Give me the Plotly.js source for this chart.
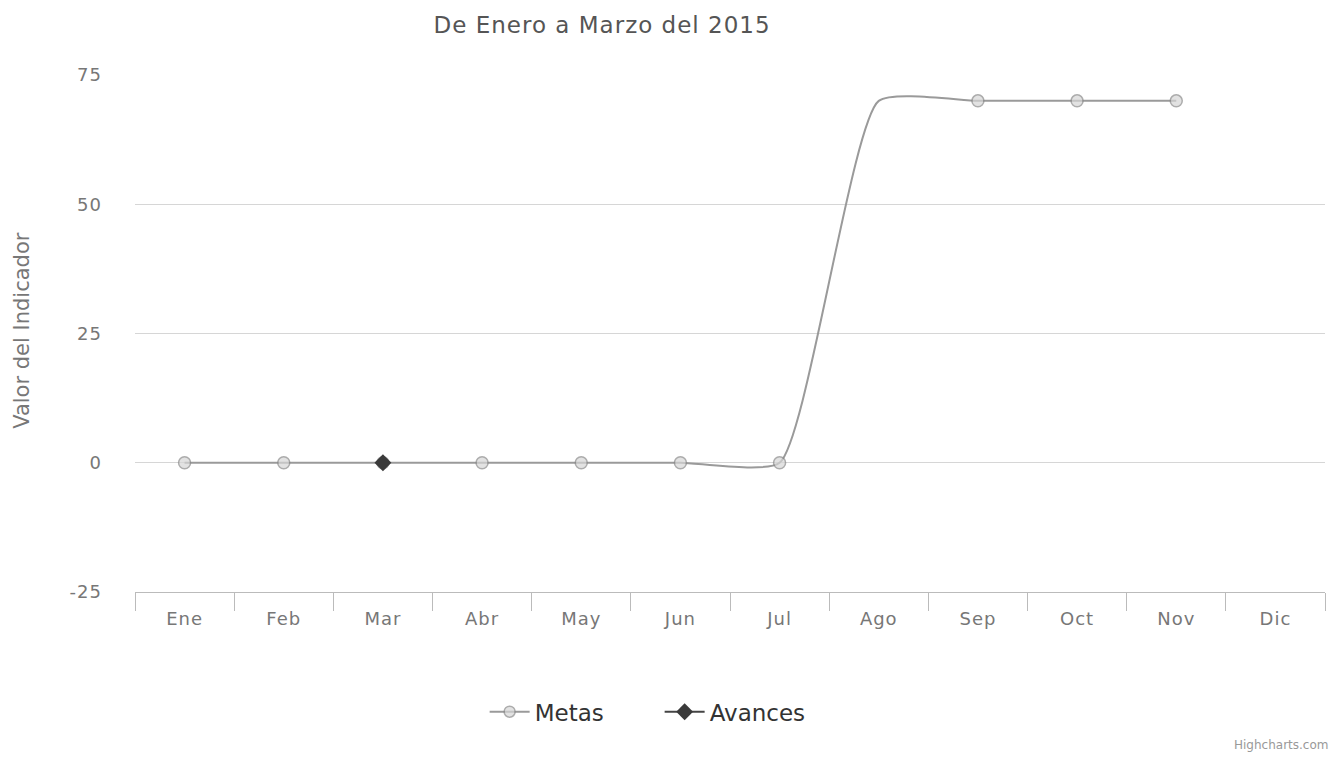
<!DOCTYPE html>
<html>
<head>
<meta charset="utf-8">
<script src="https://cdn.plot.ly/plotly-3.0.1.min.js"></script>
<style>html,body{margin:0;padding:0;background:#fff;}#chart{width:1338px;height:767px;}
#chart .gtitle{letter-spacing:1px;}
#chart .xtick text,#chart .ytick text{letter-spacing:1px;}
</style>
</head>
<body>
<div id="chart"></div>
<script>
const months = ['Ene','Feb','Mar','Abr','May','Jun','Jul','Ago','Sep','Oct','Nov','Dic'];
const metas = [0,0,0,0,0,0,0,70,70,70,70,null];
const avances = [null,null,0,null,null,null,null,null,null,null,null,null];
const yTicks = [-25,0,25,50,75];

const metasMarkerSize = months.map((m,i)=> i===7 ? 0 : 12);

const traces = [
  {
    type:'scatter', mode:'lines+markers', name:'Metas',
    x: months, y: metas,
    line:{color:'#9a9a9a', width:2, shape:'spline', smoothing:0.5},
    marker:{symbol:'circle', size:metasMarkerSize, color:'#d6d6d6', line:{color:'#8a8a8a', width:1.5}},
    connectgaps:false
  },
  {
    type:'scatter', mode:'lines+markers', name:'Avances',
    x: months, y: avances,
    line:{color:'#444', width:2},
    marker:{symbol:'diamond', size:13, color:'#3a3a3a'}
  }
];

const layout = {
  width:1338, height:767,
  margin:{l:135, r:13, t:75, b:175},
  paper_bgcolor:'#fff', plot_bgcolor:'#fff',
  font:{family:'DejaVu Sans, sans-serif', color:'#666'},
  title:{text:'De Enero a Marzo del 2015', font:{size:23, color:'#555'}, xref:'container', yref:'container', x:0.45, xanchor:'center', y:0.967, yanchor:'middle'},
  xaxis:{
    type:'category', categoryorder:'array', categoryarray:months,
    tickson:'boundaries', ticks:'outside', ticklen:18, tickcolor:'#bbb', tickwidth:1,
    showline:true, linecolor:'#bbb', linewidth:1, ticklabelstandoff:10,
    showgrid:false, tickfont:{size:18, color:'#777'},
    range:[-0.5, 11.5], fixedrange:true
  },
  yaxis:{
    range:[-25, 75], tickvals:yTicks, ticktext:yTicks.map(String),
    showgrid:true, gridcolor:'#d6d6d6', gridwidth:1, zeroline:false,
    showline:false, ticks:'', ticklabelstandoff:32,
    tickfont:{size:18, color:'#777'}
  },
  showlegend:true,
  legend:{orientation:'h', xref:'container', yref:'container', x:0.493, xanchor:'center', y:0.072, yanchor:'middle',
    font:{size:23, color:'#333'}, itemwidth:40, entrywidth:120, entrywidthmode:'pixels', tracegroupgap:0},
  annotations:[
    {text:'Valor del Indicador', textangle:-90, xref:'paper', yref:'paper', x:-0.095, y:0.507, xanchor:'center', yanchor:'middle', showarrow:false, font:{size:21, color:'#777'}},
    {text:'Highcharts.com', xref:'paper', yref:'paper', x:(1330-135)/1190, y:(592-745)/517, xanchor:'right', yanchor:'middle', showarrow:false, font:{size:12, color:'#999'}}
  ]
};

Plotly.newPlot('chart', traces, layout, {displayModeBar:false, staticPlot:true});
</script>
</body>
</html>
